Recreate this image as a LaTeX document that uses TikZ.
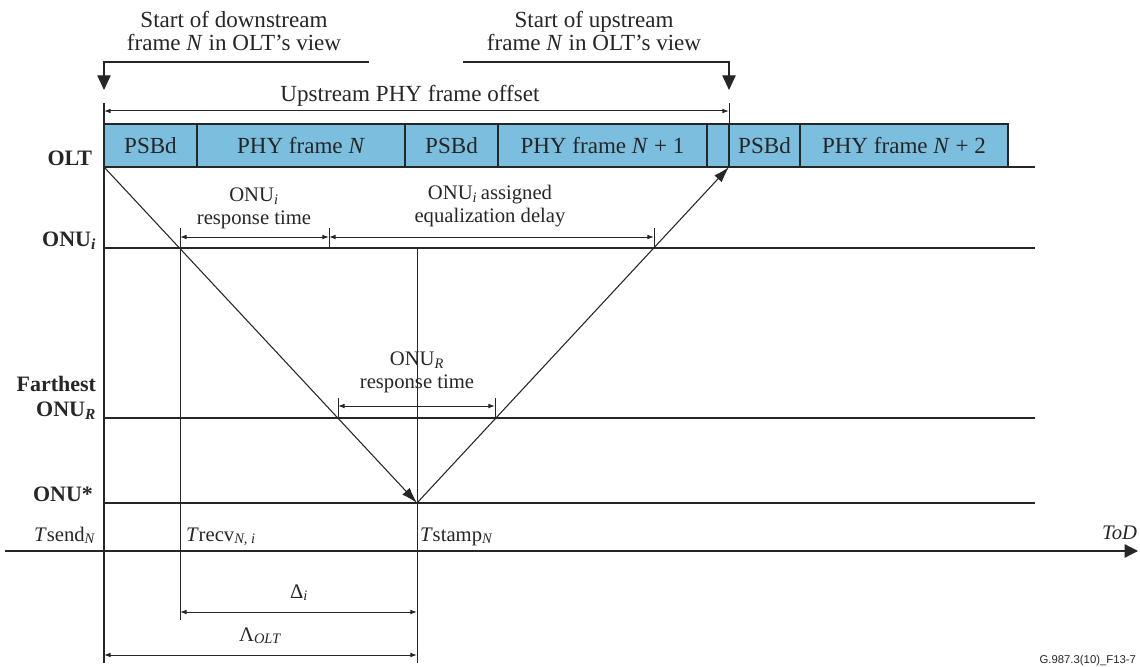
\documentclass[tikz,border=0pt]{standalone}
\usepackage{fontspec}
\setmainfont{Liberation Serif}
\newfontfamily\labelsans{Liberation Sans}
\usetikzlibrary{arrows.meta}
\definecolor{framefill}{RGB}{123,190,222}
\definecolor{ink}{RGB}{38,38,38}
\newcommand\sbi[1]{\textsubscript{\itshape #1}}
\begin{document}
\begin{tikzpicture}[x=0.75pt,y=-0.75pt,
  every node/.style={inner sep=0pt, outer sep=0pt, text=ink, font=\fontsize{15.5pt}{17pt}\selectfont},
  bigtext/.style={font=\fontsize{17.3pt}{17.3pt}\selectfont},
  lbl/.style={font=\fontsize{16.5pt}{18.5pt}\selectfont\bfseries},
  seg/.style={draw=ink, fill=framefill, line width=0.9pt, minimum height=32.25pt, minimum width=#1*0.75pt, anchor=north west, font=\fontsize{17.3pt}{17.3pt}\selectfont},
  axisline/.style={draw=ink, line width=1pt},
  thinline/.style={draw=ink, line width=0.75pt},
  dim/.style={draw=ink, line width=0.75pt, {Latex[length=5pt,width=3.6pt]}-{Latex[length=5pt,width=3.6pt]}},
  diag/.style={draw=ink, line width=0.8pt, -{Latex[length=12pt,width=7.5pt]}},
  bigarrow/.style={draw=ink, line width=0.9pt, -{Triangle[length=11pt,width=10pt]}}]
\useasboundingbox (0,0) rectangle (1140,667);

% frame segments
\node[seg=93]  (psbA) at (104,124) {PSBd};
\node[seg=208] (frN)  at (197,124) {PHY frame~\textit{N}};
\node[seg=93]  (psbB) at (405,124) {PSBd};
\node[seg=209] (frNa) at (498,124) {PHY frame~\textit{N} + 1};
\node[seg=22]  (gapseg) at (707,124) {};
\node[seg=71]  (psbC) at (729,124) {PSBd};
\node[seg=208] (frNb) at (800,124) {PHY frame~\textit{N} + 2};

% coordinates
\coordinate (oltL) at (104,167);  \coordinate (oltR) at (1035,167);
\coordinate (onuiL) at (104,248); \coordinate (onuiR) at (1035,248);
\coordinate (farL) at (104,418);  \coordinate (farR) at (1035,418);
\coordinate (starL) at (104,503); \coordinate (starR) at (1035,503);
\coordinate (todL) at (5,551);    \coordinate (todR) at (1138,551);
\coordinate (oltTop) at (104,103); \coordinate (oltBot) at (104,663);
\coordinate (recvTop) at (180,228); \coordinate (recvBot) at (180,620);
\coordinate (stampTop) at (417,248); \coordinate (stampBot) at (417,663);
\coordinate (usTickTop) at (729,103); \coordinate (usTickBot) at (729,167);
\coordinate (hitStar) at (417,503);
\coordinate (hitOlt) at (729,167);

% horizontal lines
\draw[axisline] (oltL) -- (oltR);
\draw[axisline] (onuiL) -- (onuiR);
\draw[axisline] (farL) -- (farR);
\draw[axisline] (starL) -- (starR);
\draw[axisline, -{Triangle[length=10pt,width=10pt]}] (todL) -- (todR);

% vertical lines
\draw[axisline] (oltTop) -- (oltBot);
\draw[thinline] (recvTop) -- (recvBot);
\draw[thinline] (stampTop) -- (stampBot);
\draw[thinline] (usTickTop) -- (usTickBot);

% top brackets
\coordinate (dsR) at (369,62); \coordinate (dsL) at (104,62); \coordinate (dsTip) at (104,90);
\coordinate (usL) at (463,62); \coordinate (usR) at (729,62); \coordinate (usTip) at (729,90);
\draw[bigarrow] (dsR) -- (dsL) -- (dsTip);
\draw[bigarrow] (usL) -- (usR) -- (usTip);
\node[bigtext, align=center, anchor=base] (dsText) at (234,51) {Start of downstream\\frame \textit{N} in OLT's view};
\node[bigtext, align=center, anchor=base] (usText) at (594,51) {Start of upstream\\frame \textit{N} in OLT's view};

% upstream PHY frame offset
\coordinate (offL) at (104,111); \coordinate (offR) at (729,111);
\draw[dim] (offL) -- (offR);
\node[bigtext, anchor=base] (offText) at (410,102) {Upstream PHY frame offset};

% diagonals
\draw[diag] (oltL) -- (hitStar);
\draw[diag] (hitStar) -- (hitOlt);

% ONU_i response time and equalization delay
\coordinate (riL) at (180,237); \coordinate (riR) at (329,237);
\coordinate (eqR) at (654,237);
\coordinate (tkA) at (329,228); \coordinate (tkAb) at (329,248);
\coordinate (tkB) at (654,228); \coordinate (tkBb) at (654,248);
\draw[thinline] (tkA) -- (tkAb);
\draw[thinline] (tkB) -- (tkBb);
\draw[dim] (riL) -- (riR);
\draw[dim] (riR) -- (eqR);
\node[anchor=base, align=center] (riText) at (254,224) {ONU\sbi{i}\\response time};
\node[anchor=base, align=center] (eqText) at (490,222) {ONU\sbi{i}\,assigned\\equalization delay};

% ONU_R response time
\coordinate (rrL) at (338,406); \coordinate (rrR) at (495,406);
\coordinate (tkC) at (338,398); \coordinate (tkCb) at (338,418);
\coordinate (tkD) at (495,398); \coordinate (tkDb) at (495,418);
\draw[thinline] (tkC) -- (tkCb);
\draw[thinline] (tkD) -- (tkDb);
\draw[dim] (rrL) -- (rrR);
\node[anchor=base, align=center] (rrText) at (417,388) {ONU\sbi{R}\\response time};

% left labels
\node[lbl, anchor=base east] (oltLbl) at (92,166) {OLT};
\node[lbl, anchor=base east] (onuiLbl) at (96,246) {ONU\sbi{\bfseries i}};
\node[lbl, anchor=base east, align=right] (farLbl) at (96,416) {Farthest\\ONU\sbi{\bfseries R}};
\node[lbl, anchor=base east] (starLbl) at (93,501) {ONU*};

% time labels
\node[anchor=base east] (tsend) at (95,541) {\textit{T}send\sbi{N}};
\node[anchor=base west] (trecv) at (186,541) {\textit{T}recv\sbi{N, i}};
\node[anchor=base west] (tstamp) at (420,541) {\textit{T}stamp\sbi{N}};
\node[anchor=base east] (tod) at (1137,539) {\textit{ToD}};

% Delta and Lambda
\coordinate (dlL) at (180,612); \coordinate (dlR) at (417,612);
\coordinate (lmL) at (104,655); \coordinate (lmR) at (417,655);
\draw[dim] (dlL) -- (dlR);
\draw[dim] (lmL) -- (lmR);
\node[anchor=base] (dlText) at (299,598) {Δ\sbi{i}};
\node[anchor=base] (lmText) at (260,641) {Λ\sbi{OLT}};

% figure id
\node[anchor=base east, font=\labelsans\fontsize{8.5pt}{10pt}\selectfont] (figid) at (1136,663) {G.987.3(10)\_F13-7};
\end{tikzpicture}
\end{document}
